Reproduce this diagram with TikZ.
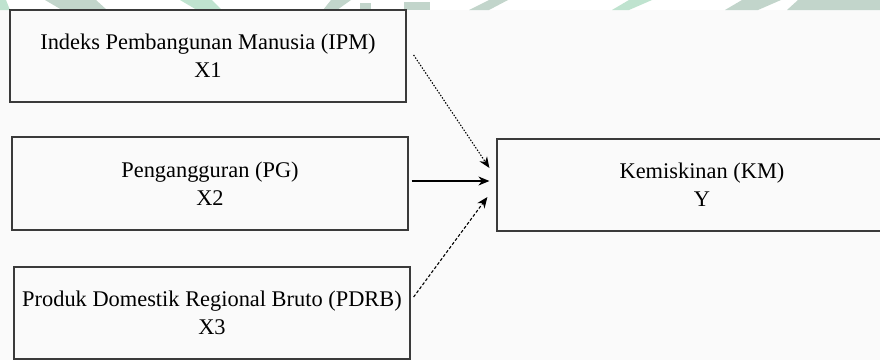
\documentclass[tikz,border=0pt]{standalone}
\usepackage{fontspec}
\setmainfont{Liberation Serif}
\usetikzlibrary{arrows.meta}
\definecolor{bgpaper}{HTML}{FAFAFA}
\definecolor{wmgreen}{HTML}{BFE3CF}
\definecolor{wmgrey}{HTML}{C2D5CB}
\definecolor{boxline}{HTML}{3A3A3A}
\tikzset{
  varbox/.style={draw=boxline, line width=1.2pt, fill=bgpaper, align=center,
    font=\fontsize{22.4}{28}\selectfont, inner sep=0pt},
  conn/.style={line width=1.1pt, -{Stealth[length=11pt,width=9pt,inset=3.5pt]}},
  dotconn/.style={conn, dash pattern=on 1.4pt off 1.6pt},
  dashconn/.style={conn, dash pattern=on 3pt off 2pt},
}
\begin{document}
\begin{tikzpicture}[x=1pt,y=-1pt]
\useasboundingbox (0,0) rectangle (880,360);
\clip (0,0) rectangle (880,360);
% background and watermark strip
\fill[white] (0,0) rectangle (880,10);
\fill[bgpaper] (0,10) rectangle (880,360);
\fill[wmgreen] (0,0) -- (6,0) -- (10,10) -- (0,10) -- cycle;
\fill[wmgrey] (45,0) -- (96,0) -- (107,10) -- (62,10) -- cycle;
\fill[wmgreen] (180,0) -- (212,0) -- (222,10) -- (197,10) -- cycle;
\fill[wmgrey] (331,0) -- (351,0) -- (337,10) -- (323,10) -- cycle;
\fill[wmgrey] (360,3) -- (371,3) -- (371,10) -- (360,10) -- cycle;
\fill[wmgrey] (404,2) -- (430,2) -- (430,10) -- (404,10) -- cycle;
\fill[wmgrey] (489,0) -- (508,0) -- (489,10) -- (469,10) -- cycle;
\fill[wmgreen] (629,0) -- (652,0) -- (629,10) -- (612,10) -- cycle;
\fill[wmgrey] (742,0) -- (781,0) -- (758,10) -- (725,10) -- cycle;
\fill[wmgrey] (798,0) -- (880,0) -- (880,10) -- (787,10) -- cycle;
% boxes
\node[varbox, minimum width=396pt, minimum height=92pt] (x1) at (208,56)
  {Indeks Pembangunan Manusia (IPM)\\X1};
\node[varbox, minimum width=396pt, minimum height=93pt] (x2) at (210,183.5)
  {Pengangguran (PG)\\X2};
\node[varbox, minimum width=396pt, minimum height=92pt] (x3) at (212,313)
  {Produk Domestik Regional Bruto (PDRB)\\X3};
\node[varbox, minimum width=410pt, minimum height=92pt] (y) at (702,185)
  {Kemiskinan (KM)\\Y};
% arrow end points
\coordinate (s1) at ([shift={(7,-1)}]x1.east);
\coordinate (s2) at ([shift={(3,-2.5)}]x2.east);
\coordinate (s3) at ([shift={(3,-16)}]x3.east);
\coordinate (t1) at ([shift={(-7,-17)}]y.west);
\coordinate (t2) at ([shift={(-7,-4)}]y.west);
\coordinate (t3) at ([shift={(-9,12)}]y.west);
\draw[dotconn] (s1) -- (t1);
\draw[conn] (s2) -- (t2);
\draw[dashconn] (s3) -- (t3);
\end{tikzpicture}
\end{document}
